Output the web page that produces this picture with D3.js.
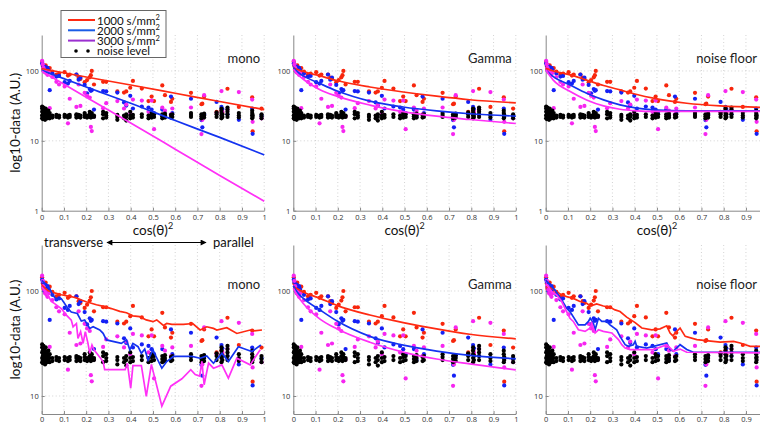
<!DOCTYPE html>
<html lang="en">
<head>
<meta charset="UTF-8">
<title>log10-data vs cos(theta)^2</title>
<script src="https://d3js.org/d3.v7.min.js"></script>
<style>
  body { margin: 0; background: #fff; }
  svg { display: block; font-family: 'Lato', 'Open Sans', sans-serif; }
  .axis text { font-size: 7.5px; fill: #333; font-family: 'Open Sans', sans-serif; }
  .axis path, .axis line { stroke: #888; }
</style>
</head>
<body>
<svg width="760" height="424"></svg>
<script>
// measured directions, cos(theta)^2
const cos2 = [0.002, 0.005, 0.008, 0.012, 0.015, 0.018, 0.022, 0.026, 0.03, 0.036,
  0.048, 0.066, 0.078, 0.103, 0.118, 0.126, 0.156, 0.166, 0.174, 0.193,
  0.204, 0.216, 0.221, 0.225, 0.235, 0.276, 0.29, 0.34, 0.37, 0.38,
  0.398, 0.41, 0.45, 0.48, 0.494, 0.505, 0.542, 0.554, 0.581, 0.587,
  0.671, 0.718, 0.722, 0.73, 0.786, 0.808, 0.812, 0.835, 0.886, 0.946,
  0.948, 0.988];

const b1000 = [135, 118, 105, 112, 98, 120, 108, 102, 96, 110,
  98, 89, 92, 96, 86, 89, 89, 80, 77, 69,
  74, 81, 87, 100, 64, 70, 70, 51, 49, 51,
  57.5, 72, 56, 37, 43, 37, 62, 45, 36, 40,
  48.7, 33.4, 34, 43, 26, 27.2, 25, 55.6, 30.6, 42,
  13.7, 28.9];

const b2000 = [128, 122, 110, 100, 115, 105, 95, 111, 104, 53,
  92, 83, 85, 69, 66, 72, 89, 75, 80, 63,
  48, 55, 52, 53, 28, 51.6, 51, 49, 35.4, 32,
  44, 29, 31, 30, 27.9, 25, 28, 22, 43, 25,
  40, 19.8, 15.6, 24, 36, 30.6, 28.5, 24, 20, 28.9,
  12.6, 22.9];

const b3000 = [140, 125, 111, 103, 95, 100, 92, 88, 95, 29.3,
  82, 70, 64, 60, 17.8, 40, 30.6, 64, 31.6, 48.7,
  44, 41.6, 15.8, 13.8, 22.3, 29.3, 34.6, 37, 29, 33,
  25, 39, 37.7, 26, 37.7, 14.7, 30, 27, 24, 29,
  30, 12.5, 20, 45, 25, 51.6, 26, 28, 49.8, 39,
  18.7, 21];

// noise level samples per direction
const noiseLevels = [
  [21, 23, 26, 29, 31], [20.5, 22, 24, 27], [21, 23, 25, 28, 30], [21.5, 23.5, 26],
  [20, 22, 24, 27], [21, 23, 25, 29], [22, 24, 26], [21, 23, 25], [22, 24, 27], [21, 23, 25],
  [21.5, 23], [22, 23.5], [21.5, 23], [22, 23.5], [21.5, 23], [22, 23.5],
  [21.5, 23, 24], [22, 23.5], [21.5, 23], [22, 23.5, 25], [21.5, 23], [22, 24, 26],
  [21.5, 23], [22, 23.5, 25], [22, 23], [21, 24, 26], [21.5, 23, 25], [20, 22, 23.5],
  [21, 23], [19.5, 22, 24], [21, 23, 26], [21.5, 23.5], [22, 24], [21, 23],
  [21.5, 23.5, 25], [22, 24], [21, 22.5, 24], [21.5, 23, 24.5], [21.5, 23.5], [22, 24],
  [22, 23.5, 25], [21, 22.5, 24], [22, 23.5], [21.5, 23, 24.5], [22, 24, 25.5],
  [21, 23, 25, 27, 29], [22, 24], [22, 24, 26, 28, 30], [21.5, 23, 25],
  [21, 23, 25, 27], [22, 23.5], [21, 22.5, 24]
];

// mono-exponential fit (top row)
const monoFitX = [0, 0.2, 0.4, 0.6, 0.8, 1];
const monoFit1000 = [108, 82, 63, 48, 36.5, 28];
const monoFit2000 = [102, 59, 34.5, 19.5, 11.2, 6.3];
const monoFit3000 = [99, 42, 18, 7.6, 3.2, 1.37];

// gamma fit (both rows)
const gammaFitX = [0, 0.022, 0.045, 0.12, 0.195, 0.344, 0.494, 0.644, 0.793, 1];
const gammaFit1000 = [110, 104, 98, 85, 73, 59, 50, 43.5, 38.7, 35];
const gammaFit2000 = [112, 95, 85, 66, 52, 37, 30.5, 26.8, 24.4, 22.6];
const gammaFit3000 = [106, 88, 76, 54, 43.7, 32.5, 26.2, 22.5, 20.2, 17.7];

// noise floor fit (top row)
const floorFitX = [0, 0.034, 0.11, 0.184, 0.26, 0.334, 0.41, 0.484, 0.634, 0.784, 1];
const floorFit1000 = [109, 100, 88, 74, 62, 53.5, 46, 40.8, 34.5, 31.6, 30];
const floorFit2000 = [103, 83, 63, 48, 38.5, 32.7, 29.3, 27.7, 26.9, 26.9, 26.9];
const floorFit3000 = [103, 74, 50.7, 38.5, 31.6, 28.3, 26.9, 26.4, 26.4, 26.4, 26.4];

// per-direction mono predictions (bottom row)
const monoDir1000X = [0, 0.028, 0.058, 0.088, 0.126, 0.156, 0.178, 0.2, 0.246, 0.283, 0.313, 0.351,
  0.381, 0.41, 0.44, 0.47, 0.5, 0.517, 0.547, 0.562, 0.585, 0.637, 0.679, 0.712, 0.742, 0.772,
  0.787, 0.832, 0.877, 0.937, 0.952, 0.99];
const monoDir1000 = [113, 101, 96, 92, 89, 86, 82, 79, 74, 71, 68, 64,
  62, 58, 57, 53, 51, 53, 47, 49, 48, 48, 49, 42.5, 45.6, 44,
  42.5, 44.7, 39.4, 42.5, 41.7, 42.5];
const monoDir2000X = [0, 0.021, 0.036, 0.051, 0.066, 0.088, 0.118, 0.133, 0.16, 0.178, 0.193, 0.216,
  0.231, 0.261, 0.276, 0.291, 0.358, 0.381, 0.396, 0.41, 0.433, 0.448, 0.463, 0.478, 0.5, 0.51,
  0.54, 0.562, 0.592, 0.637, 0.675, 0.712, 0.742, 0.772, 0.81, 0.839, 0.884, 0.922, 0.945, 0.985];
const monoDir2000 = [126, 113, 105, 91, 83, 84.6, 68, 63, 61, 51.7, 52.8, 44,
  45.6, 42.5, 39.5, 34.2, 31.7, 34.2, 27.5, 31.7, 29.5, 25.5, 28, 22, 27.6, 24.7,
  18.4, 21.3, 23.8, 23.8, 23.8, 22.9, 24.1, 20.5, 25.5, 21.3, 29.5, 27.6, 26.5, 30.6];
const monoDir3000X = [0, 0.013, 0.028, 0.043, 0.058, 0.088, 0.111, 0.133, 0.141, 0.156, 0.163, 0.175,
  0.186, 0.196, 0.208, 0.216, 0.226, 0.235, 0.276, 0.283, 0.375, 0.385, 0.4, 0.41, 0.448, 0.47,
  0.493, 0.54, 0.58, 0.63, 0.67, 0.69, 0.71, 0.72, 0.73, 0.75, 0.772, 0.81, 0.839, 0.877, 0.937, 0.982];
const monoDir3000 = [109, 101, 91, 79.5, 75.8, 68, 58.9, 52.8, 45.6, 49, 35.4, 41,
  31.7, 41, 31.7, 25.5, 30.6, 27.6, 21.3, 17.8, 17.8, 20.5, 11.9, 19.5, 19.5, 9.9,
  20, 8, 12.4, 14.6, 17.8, 16, 15.5, 21.4, 12.8, 20.6, 18.4, 19.8, 14.8, 22.9, 19.8, 27.6];

// per-direction noise floor predictions (bottom row)
const floorDir1000X = [0, 0.027, 0.049, 0.072, 0.094, 0.124, 0.154, 0.184, 0.2, 0.229, 0.259, 0.289,
  0.312, 0.334, 0.364, 0.402, 0.432, 0.477, 0.514, 0.544, 0.559, 0.571, 0.589, 0.604, 0.627, 0.679,
  0.784, 0.844, 0.874, 0.919, 1];
const floorDir1000 = [110, 106, 98.6, 91.7, 88.4, 85, 79.3, 76.4, 72, 75.4, 72, 70,
  66, 63.7, 56.3, 50, 44.4, 42.7, 43.6, 46.6, 39.8, 37.5, 41.2, 44.4, 37, 34.4,
  32.6, 33.1, 32, 29.7, 29.7];
const floorDir2000X = [0, 0.019, 0.042, 0.072, 0.094, 0.109, 0.147, 0.177, 0.192, 0.2, 0.214, 0.222,
  0.237, 0.252, 0.274, 0.289, 0.319, 0.334, 0.357, 0.372, 0.394, 0.402, 0.409, 0.454, 0.484, 0.544,
  0.559, 0.574, 0.604, 0.634, 0.664, 1];
const floorDir2000 = [127, 114, 102, 82, 68.5, 63.7, 47.6, 47.6, 51.3, 55, 49.4, 42.7,
  55, 51.3, 51.3, 47.6, 42.7, 37, 30.8, 29.7, 30.8, 33.1, 29.7, 28.6, 29.7, 32,
  27.7, 26.7, 30.8, 27.7, 26.1, 26.1];
const floorDir3000X = [0, 0.027, 0.049, 0.072, 0.094, 0.109, 0.124, 0.147, 0.177, 0.2, 0.207, 0.222,
  0.237, 0.259, 0.297, 0.327, 0.342, 0.357, 0.379, 0.484, 0.544, 0.574, 0.604, 0.634, 1];
const floorDir3000 = [118, 98.6, 91.7, 79.3, 63.7, 55, 51.3, 42.7, 41.2, 44.4, 49.4, 39.8,
  42.7, 41.2, 39.8, 34.4, 30.8, 28.6, 27.7, 27.7, 30.8, 26.7, 28, 26.1, 25.7];

const xTicks = [0, 0.1, 0.2, 0.3, 0.4, 0.5, 0.6, 0.7, 0.8, 0.9, 1];
const legendLabels = ["1000", "2000", "3000"];

const dotColors = ["#f7260c", "#1420f5", "#f626f0"];
const lineColors = ["#ff2a12", "#1433f0", "#ff30f6"];
const legendColors = ["#ff2a12", "#1a5ce6", "#9b2fd0"];

const svg = d3.select("svg");
const defs = svg.append("defs");
const colLeft = [41.7, 293.3, 545.7];
const panelW = 222.5;
const rows = [
  { top: 35, bottom: 210.7, domain: [1, 327], yTicks: [1, 10, 100] },
  { top: 245, bottom: 414, domain: [6.74, 274], yTicks: [10, 100] }
];

const panels = [
  { row: 0, col: 0, title: "mono", lines: [[monoFitX, monoFit1000], [monoFitX, monoFit2000], [monoFitX, monoFit3000]], smooth: true },
  { row: 0, col: 1, title: "Gamma", lines: [[gammaFitX, gammaFit1000], [gammaFitX, gammaFit2000], [gammaFitX, gammaFit3000]], smooth: true },
  { row: 0, col: 2, title: "noise floor", lines: [[floorFitX, floorFit1000], [floorFitX, floorFit2000], [floorFitX, floorFit3000]], smooth: true },
  { row: 1, col: 0, title: "mono", lines: [[monoDir1000X, monoDir1000], [monoDir2000X, monoDir2000], [monoDir3000X, monoDir3000]], smooth: false },
  { row: 1, col: 1, title: "Gamma", lines: [[gammaFitX, gammaFit1000], [gammaFitX, gammaFit2000], [gammaFitX, gammaFit3000]], smooth: true },
  { row: 1, col: 2, title: "noise floor", lines: [[floorDir1000X, floorDir1000], [floorDir2000X, floorDir2000], [floorDir3000X, floorDir3000]], smooth: false }
];

const series = [b1000, b2000, b3000];

panels.forEach((p, i) => {
  const r = rows[p.row];
  const innerH = r.bottom - r.top;
  const left = colLeft[p.col];
  const g = svg.append("g").attr("transform", `translate(${left},${r.top})`);
  const x = d3.scaleLinear().domain([0, 1]).range([0, panelW]);
  const y = d3.scaleLog().domain(r.domain).range([innerH, 0]);

  defs.append("clipPath").attr("id", "clip" + i)
    .append("rect").attr("x", -3).attr("y", -3).attr("width", panelW + 6).attr("height", innerH + 6);

  // dotted grid
  g.selectAll(".vgrid").data(xTicks.slice(1)).join("line")
    .attr("x1", d => x(d)).attr("x2", d => x(d))
    .attr("y1", 0).attr("y2", innerH)
    .attr("stroke", "#c8c8c8").attr("stroke-width", 0.8).attr("stroke-dasharray", "1,2.5");
  g.selectAll(".hgrid").data(r.yTicks.filter(t => y(t) > 1 && y(t) < innerH - 1)).join("line")
    .attr("x1", 0).attr("x2", panelW)
    .attr("y1", d => y(d)).attr("y2", d => y(d))
    .attr("stroke", "#c8c8c8").attr("stroke-width", 0.8).attr("stroke-dasharray", "1,2.5");

  // axes (labels past the page edge are left out)
  const shownTicks = xTicks.filter(t => left + x(t) < 757);
  g.append("g").attr("class", "axis")
    .attr("transform", `translate(0,${innerH})`)
    .call(d3.axisBottom(x).tickValues(shownTicks).tickSizeInner(-3).tickSizeOuter(0)
      .tickPadding(p.row === 0 ? 4 : 3).tickFormat(d3.format("~g")));
  g.append("g").attr("class", "axis")
    .call(d3.axisLeft(y).tickValues(r.yTicks).tickSizeInner(-3).tickSizeOuter(0).tickPadding(3)
      .tickFormat(d3.format("~g")));

  const plot = g.append("g").attr("clip-path", `url(#clip${i})`);

  // data points
  series.forEach((vals, k) => {
    plot.selectAll(".pt" + k).data(vals).join("circle")
      .attr("cx", (d, j) => x(cos2[j]))
      .attr("cy", d => y(d))
      .attr("r", 2.1)
      .attr("fill", dotColors[k]);
  });

  // noise level points
  const noisePts = noiseLevels.flatMap((vals, j) => vals.map(v => [cos2[j], v]));
  plot.selectAll(".noise").data(noisePts).join("circle")
    .attr("cx", d => x(d[0]))
    .attr("cy", d => y(d[1]))
    .attr("r", 2.1)
    .attr("fill", "#000");

  // fitted lines
  p.lines.forEach((ln, k) => {
    const line = d3.line()
      .x((d, j) => x(ln[0][j]))
      .y(d => y(d))
      .curve(p.smooth ? d3.curveMonotoneX : d3.curveLinear);
    plot.append("path")
      .attr("d", line(ln[1]))
      .attr("fill", "none")
      .attr("stroke", lineColors[k])
      .attr("stroke-width", 1.7);
  });

  const titleRight = Math.min(panelW - 4, 757 - left);
  g.append("text")
    .attr("x", titleRight).attr("y", p.row === 0 ? 28 : 44)
    .attr("text-anchor", "end")
    .attr("font-size", "13px").attr("fill", "#222")
    .text(p.title);

  // x label under top row
  if (p.row === 0) {
    const t = svg.append("text")
      .attr("x", left + panelW / 2).attr("y", 235)
      .attr("text-anchor", "middle")
      .attr("font-size", "13.5px").attr("fill", "#111");
    t.append("tspan").text("cos(θ)");
    t.append("tspan").attr("dy", -6).attr("font-size", "9px").text("2");
  }
  if (p.col === 0) {
    svg.append("text")
      .attr("transform", `translate(20,${(r.top + r.bottom) / 2}) rotate(-90)`)
      .attr("text-anchor", "middle")
      .attr("font-size", "13.5px").attr("fill", "#111")
      .text("log10-data (A.U.)");
  }
});

// transverse <-> parallel annotation
defs.append("marker")
  .attr("id", "arrow")
  .attr("viewBox", "0 0 10 10")
  .attr("refX", 9).attr("refY", 5)
  .attr("markerWidth", 7).attr("markerHeight", 6)
  .attr("markerUnits", "userSpaceOnUse")
  .attr("orient", "auto-start-reverse")
  .append("path").attr("d", "M 0 0 L 10 5 L 0 10 z").attr("fill", "#000");

svg.append("text").attr("x", 44).attr("y", 247)
  .attr("font-size", "13px").attr("fill", "#111").text("transverse");
svg.append("line")
  .attr("x1", 107).attr("x2", 206).attr("y1", 242.5).attr("y2", 242.5)
  .attr("stroke", "#000").attr("stroke-width", 1.2)
  .attr("marker-start", "url(#arrow)").attr("marker-end", "url(#arrow)");
svg.append("text").attr("x", 213).attr("y", 247)
  .attr("font-size", "13px").attr("fill", "#111").text("parallel");

// legend
const legend = svg.append("g");
legend.append("rect")
  .attr("x", 61).attr("y", 10.5).attr("width", 105).attr("height", 47)
  .attr("fill", "#fff").attr("stroke", "#666").attr("stroke-width", 1);
legendLabels.forEach((lab, k) => {
  const cy = 20 + k * 10.3;
  legend.append("line")
    .attr("x1", 68).attr("x2", 95).attr("y1", cy).attr("y2", cy)
    .attr("stroke", legendColors[k]).attr("stroke-width", 2);
  const t = legend.append("text").attr("x", 97).attr("y", cy + 4.5)
    .attr("font-size", "11.5px").attr("fill", "#111");
  t.append("tspan").text(lab + " s/mm");
  t.append("tspan").attr("dy", -4.5).attr("font-size", "7.5px").text("2");
});
[76, 88].forEach(cx => legend.append("circle").attr("cx", cx).attr("cy", 51).attr("r", 1.8).attr("fill", "#000"));
legend.append("text").attr("x", 97).attr("y", 55)
  .attr("font-size", "11.5px").attr("fill", "#111").text("noise level");
</script>
</body>
</html>
